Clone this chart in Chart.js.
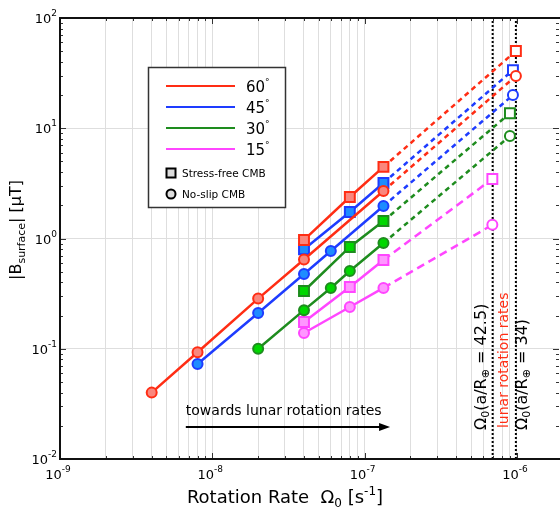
<!DOCTYPE html>
<html>
<head>
<meta charset="utf-8">
<script src="https://cdn.jsdelivr.net/npm/chart.js@4.4.0/dist/chart.umd.min.js"></script>
<style>
  body { margin: 0; background: #fff; }
</style>
</head>
<body>
<canvas id="chart" width="560" height="509"></canvas>
<script>
// Rotation rate [s^-1] and |B_surface| [uT]
// stress-free CMB (squares)
const sfRates = [4e-8, 8e-8, 1.33e-7];
const sf60 = [0.97, 2.38, 4.46];
const sf45 = [0.80, 1.74, 3.19];
const sf30 = [0.334, 0.838, 1.44];
const sf15 = [0.175, 0.363, 0.638];

// no-slip CMB (circles)
const ns60Rates = [4e-9, 8e-9, 2e-8, 4e-8, 1.33e-7];
const ns60 = [0.040, 0.093, 0.285, 0.645, 2.70];
const ns45Rates = [8e-9, 2e-8, 4e-8, 6e-8, 1.33e-7];
const ns45 = [0.0727, 0.211, 0.476, 0.77, 1.97];
const ns30Rates = [2e-8, 4e-8, 6e-8, 8e-8, 1.33e-7];
const ns30 = [0.10, 0.224, 0.356, 0.507, 0.91];
const ns15Rates = [4e-8, 8e-8, 1.33e-7];
const ns15 = [0.139, 0.239, 0.356];

// extrapolated points at lunar rotation rates (hollow markers)
const extRates = [9.85e-7, 9.42e-7, 9.0e-7, 6.9e-7];   // 60, 45, 30, 15 deg
const extSf = [50.2, 33.7, 13.7, 3.47];
const extNs = [29.8, 20.0, 8.5, 1.33];

// lunar rotation rates, a/R = 42.5 and a/R = 34
const lunarRates = [6.93e-7, 9.85e-7];

const angles = ['60', '45', '30', '15'];
const lineColors = ['rgb(255,45,20)', 'rgb(30,60,255)', 'rgb(30,140,30)', 'rgb(255,70,255)'];
const fillColors = ['rgb(250,135,125)', 'rgb(30,140,255)', 'rgb(0,215,0)', 'rgb(255,150,255)'];
const dashes = [[5, 4], [5, 4], [5, 4], [8, 5]];

const xMin = 1e-9, xMax = 1.89e-6, yMin = 1e-2, yMax = 1e2;
const xExps = [-9, -8, -7, -6];
const yExps = [-2, -1, 0, 1, 2];

const xGrid = [];
xExps.forEach(e => { for (let m = 1; m <= 9; m++) { const v = m * Math.pow(10, e); if (v <= xMax) xGrid.push(v); } });
const yMinor = [];
yExps.forEach(e => { for (let m = 1; m <= 9; m++) { const v = m * Math.pow(10, e); if (v <= yMax) yMinor.push(v); } });
const yGrid = yExps.map(e => Math.pow(10, e));

const FONT = '"DejaVu Sans", Verdana, sans-serif';

const sfSeries = [sf60, sf45, sf30, sf15];
const nsSeries = [ns60, ns45, ns30, ns15];
const nsRates = [ns60Rates, ns45Rates, ns30Rates, ns15Rates];

const pts = (xs, ys) => xs.map((x, i) => ({ x: x, y: ys[i] }));

const datasets = [];
angles.forEach((a, i) => {
  const lastSf = sfSeries[i][sfSeries[i].length - 1];
  const lastNs = nsSeries[i][nsSeries[i].length - 1];
  const lastNsRate = nsRates[i][nsRates[i].length - 1];
  // solid: stress-free
  datasets.push({
    data: pts(sfRates, sfSeries[i]), showLine: true,
    borderColor: lineColors[i], borderWidth: 2.5,
    pointStyle: 'rect', pointRadius: 7, pointBorderWidth: 2,
    pointBorderColor: lineColors[i], pointBackgroundColor: fillColors[i]
  });
  // solid: no-slip
  datasets.push({
    data: pts(nsRates[i], nsSeries[i]), showLine: true,
    borderColor: lineColors[i], borderWidth: 2.5,
    pointStyle: 'circle', pointRadius: 5, pointBorderWidth: 2,
    pointBorderColor: lineColors[i], pointBackgroundColor: fillColors[i]
  });
  // dashed extrapolation: stress-free
  datasets.push({
    data: pts([sfRates[sfRates.length - 1], extRates[i]], [lastSf, extSf[i]]), showLine: true,
    borderColor: lineColors[i], borderWidth: 2.5, borderDash: dashes[i],
    pointStyle: 'rect', pointRadius: [0, 7], pointBorderWidth: 2,
    pointBorderColor: lineColors[i], pointBackgroundColor: '#fff'
  });
  // dashed extrapolation: no-slip
  datasets.push({
    data: pts([lastNsRate, extRates[i]], [lastNs, extNs[i]]), showLine: true,
    borderColor: lineColors[i], borderWidth: 2.5, borderDash: dashes[i],
    pointStyle: 'circle', pointRadius: [0, 5], pointBorderWidth: 2,
    pointBorderColor: lineColors[i], pointBackgroundColor: '#fff'
  });
});
// vertical dotted lines at lunar rotation rates
lunarRates.forEach(r => {
  datasets.push({
    data: pts([r, r], [yMin, yMax]), showLine: true,
    borderColor: '#000', borderWidth: 2, borderDash: [2, 2], pointRadius: 0
  });
});

// draws text made of pieces [text, size, dy, color]
function rich(ctx, pieces, x, y, align, rot, color) {
  ctx.save();
  ctx.translate(x, y);
  if (rot) ctx.rotate(rot);
  ctx.textAlign = 'left';
  ctx.textBaseline = 'alphabetic';
  let w = 0;
  pieces.forEach(p => { ctx.font = p[1] + 'px ' + FONT; w += ctx.measureText(p[0]).width; });
  let cx = align === 'center' ? -w / 2 : (align === 'right' ? -w : 0);
  pieces.forEach(p => {
    ctx.font = p[1] + 'px ' + FONT;
    ctx.fillStyle = p[3] || color || '#000';
    ctx.fillText(p[0], cx, p[2] || 0);
    cx += ctx.measureText(p[0]).width;
  });
  ctx.restore();
}

const isDecade = v => Math.abs(Math.log10(v) - Math.round(Math.log10(v))) < 1e-9;

const decor = {
  id: 'decor',
  afterDraw(chart) {
    const { ctx, chartArea: area, scales: { x, y } } = chart;
    ctx.save();

    // inward tick marks
    ctx.strokeStyle = '#333';
    ctx.lineWidth = 1;
    xGrid.forEach(v => {
      const px = Math.round(x.getPixelForValue(v)) + 0.5;
      const len = isDecade(v) ? 6 : 3;
      ctx.beginPath();
      ctx.moveTo(px, area.bottom); ctx.lineTo(px, area.bottom - len);
      ctx.moveTo(px, area.top); ctx.lineTo(px, area.top + len);
      ctx.stroke();
    });
    yMinor.forEach(v => {
      const py = Math.round(y.getPixelForValue(v)) + 0.5;
      const len = isDecade(v) ? 6 : 3;
      ctx.beginPath();
      ctx.moveTo(area.left, py); ctx.lineTo(area.left + len, py);
      ctx.moveTo(area.right, py); ctx.lineTo(area.right - len, py);
      ctx.stroke();
    });

    // frame: left, bottom, top
    ctx.strokeStyle = '#111';
    ctx.lineWidth = 2;
    ctx.beginPath();
    ctx.moveTo(area.right + 2, area.top);
    ctx.lineTo(area.left, area.top);
    ctx.lineTo(area.left, area.bottom);
    ctx.lineTo(area.right + 2, area.bottom);
    ctx.stroke();

    // tick labels
    yExps.forEach(e => {
      const py = y.getPixelForValue(Math.pow(10, e));
      rich(ctx, [['10', 13], [String(e), 9, -7]], area.left - 3, py + 5, 'right');
    });
    xExps.forEach(e => {
      const px = x.getPixelForValue(Math.pow(10, e));
      rich(ctx, [['10', 13], [String(e), 9, -7]], px - 2, area.bottom + 20, 'center');
    });

    // axis titles
    rich(ctx, [['Rotation Rate  \u03A9', 18], ['0', 12, 4], [' [s', 18], ['-1', 12, -8], [']', 18]],
      285, 503, 'center');
    rich(ctx, [['|B', 16], ['surface', 11, 4], ['| [\u03BCT]', 16]], 21, 230, 'center', -Math.PI / 2);

    // arrow annotation
    const ax0 = x.getPixelForValue(6.7e-9), ax1 = x.getPixelForValue(1.47e-7);
    const ay = y.getPixelForValue(0.0195);
    ctx.strokeStyle = '#000';
    ctx.fillStyle = '#000';
    ctx.lineWidth = 2;
    ctx.beginPath(); ctx.moveTo(ax0, ay); ctx.lineTo(ax1 - 8, ay); ctx.stroke();
    ctx.beginPath(); ctx.moveTo(ax1, ay); ctx.lineTo(ax1 - 11, ay - 4); ctx.lineTo(ax1 - 11, ay + 4); ctx.closePath(); ctx.fill();
    rich(ctx, [['towards lunar rotation rates', 14]], ax0, y.getPixelForValue(0.0278) + 5, 'left');

    // vertical labels near the lunar rates
    const ty = y.getPixelForValue(0.0183);
    rich(ctx, [['\u03A9', 16], ['0', 11, 3], ['(a/R', 16], ['\u2295', 11, 3], [' = 42.5)', 16]],
      x.getPixelForValue(6.25e-7), ty, 'left', -Math.PI / 2);
    rich(ctx, [['lunar rotation rates', 14]],
      x.getPixelForValue(8.75e-7), ty - 2, 'left', -Math.PI / 2, 'rgb(255,45,20)');
    rich(ctx, [['\u03A9', 16], ['0', 11, 3], ['(a/R', 16], ['\u2295', 11, 3], [' = 34)', 16]],
      x.getPixelForValue(1.16e-6), ty, 'left', -Math.PI / 2);

    // legend
    ctx.fillStyle = '#fff';
    ctx.fillRect(148.5, 67.5, 137, 140);
    ctx.strokeStyle = '#333';
    ctx.lineWidth = 1.5;
    ctx.strokeRect(148.5, 67.5, 137, 140);
    angles.forEach((a, i) => {
      const ly = 86 + i * 21;
      ctx.strokeStyle = lineColors[i];
      ctx.lineWidth = 2;
      ctx.beginPath(); ctx.moveTo(166, ly); ctx.lineTo(235, ly); ctx.stroke();
      rich(ctx, [[a, 15], ['\u00B0', 9, -7]], 246, ly + 6, 'left');
    });
    ctx.fillStyle = '#ddd';
    ctx.strokeStyle = '#000';
    ctx.lineWidth = 2;
    ctx.fillRect(166.5, 168.5, 9, 9);
    ctx.strokeRect(166.5, 168.5, 9, 9);
    ctx.beginPath(); ctx.arc(171, 194, 4.5, 0, Math.PI * 2); ctx.fill(); ctx.stroke();
    rich(ctx, [['Stress-free CMB', 10.5]], 182, 177, 'left');
    rich(ctx, [['No-slip CMB', 10.5]], 182, 198, 'left');

    ctx.restore();
  }
};

new Chart(document.getElementById('chart'), {
  type: 'scatter',
  data: { datasets: datasets },
  options: {
    responsive: false,
    animation: false,
    layout: { autoPadding: false, padding: { left: 60, right: 1, top: 18, bottom: 50 } },
    plugins: { legend: { display: false }, tooltip: { enabled: false } },
    scales: {
      x: {
        type: 'logarithmic', min: xMin, max: xMax, bounds: 'data',
        afterBuildTicks: s => { s.ticks = xGrid.map(v => ({ value: v })); },
        ticks: { display: false },
        grid: { color: '#dedede', lineWidth: 1, drawTicks: false },
        border: { display: false }
      },
      y: {
        type: 'logarithmic', min: yMin, max: yMax, bounds: 'data',
        afterBuildTicks: s => { s.ticks = yGrid.map(v => ({ value: v })); },
        ticks: { display: false },
        grid: { color: '#dedede', lineWidth: 1, drawTicks: false },
        border: { display: false }
      }
    }
  },
  plugins: [decor]
});
</script>
</body>
</html>
